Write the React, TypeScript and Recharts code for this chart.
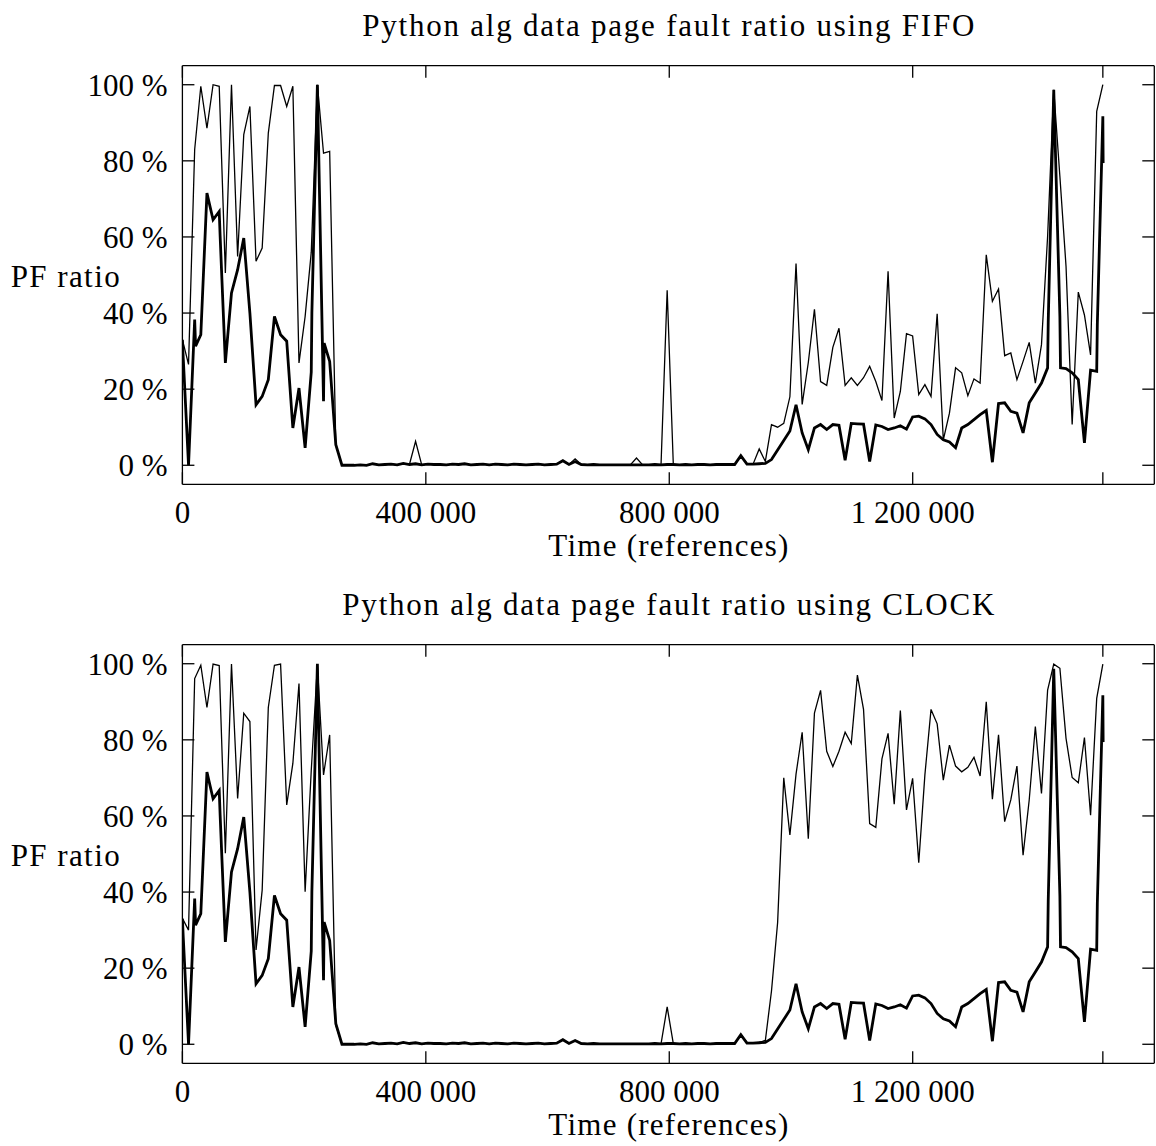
import { LineChart, Line, XAxis, YAxis } from "recharts";

const FONT = "'Liberation Serif', 'Times New Roman', serif";

// one sample every SAMPLE_STEP references
const SAMPLE_STEP = 10083;
const X_MAX = 1597000;
const xTicks = [0, 400000, 800000, 1200000, 1512450];
const yTicks = [0, 20, 40, 60, 80, 100];

// page fault ratio (%) of the FIFO run
const fifoRatio = [
  33, 26.5, 83, 99.6, 88.6, 100, 99.6, 50.5, 100, 54.9,
  86.9, 94.3, 53.6, 57.1, 87.3, 99.8, 99.8, 94.3, 99.6, 26.9,
  39.1, 56, 100, 82, 82.5, 5.4, 0, 0, 0, 0.1,
  0, 0.4, 0.1, 0.2, 0.3, 0.1, 0.5, 0.2, 6.3, 0.1,
  0.3, 0.2, 0.2, 0.1, 0.3, 0.2, 0.4, 0.1, 0.2, 0.3,
  0.1, 0.3, 0.2, 0.1, 0.3, 0.2, 0.1, 0.2, 0.3, 0.1,
  0.2, 0.3, 1.2, 0.2, 1.7, 0.2, 0.1, 0.2, 0.1, 0.1,
  0.1, 0.1, 0.1, 0.1, 1.9, 0.1, 0.1, 0.2, 0.1, 46,
  0.2, 0.1, 0.2, 0.1, 0.2, 0.2, 0.1, 0.2, 0.2, 0.2,
  0.2, 2.5, 0.5, 0.3, 4.3, 1, 10.7, 10, 11, 18,
  53, 16, 27, 41, 22, 21, 31, 36, 21, 23,
  21, 23, 26, 22, 17, 51, 12.4, 19.4, 34.6, 34,
  18.6, 21.2, 18.1, 39.8, 6.7, 13.7, 25.6, 24.3, 18.3, 22.7,
  21.6, 55.3, 43.1, 46.3, 28.8, 29.5, 22.5, 27.3, 32.3, 21.6,
  31.7, 60.2, 98.7, 75.9, 52.3, 10.7, 45.5, 39.5, 29, 93, 100,
];

// page fault ratio (%) of the CLOCK run
const clockRatio = [
  33.1, 30, 96.1, 99.6, 88.5, 99.9, 99.5, 50.2, 99.9, 64.6,
  87, 84.8, 24.8, 40.5, 88.5, 99.6, 99.9, 62.9, 73.8, 94.8,
  40.1, 72, 99.6, 70.8, 81.3, 5, 0, 0, 0, 0.1,
  0, 0.4, 0.1, 0.2, 0.3, 0.1, 0.5, 0.2, 0.4, 0.1,
  0.3, 0.2, 0.2, 0.1, 0.3, 0.2, 0.4, 0.1, 0.2, 0.3,
  0.1, 0.3, 0.2, 0.1, 0.3, 0.2, 0.1, 0.2, 0.3, 0.1,
  0.2, 0.3, 1.2, 0.2, 1.0, 0.2, 0.1, 0.2, 0.1, 0.1,
  0.1, 0.1, 0.1, 0.1, 0.1, 0.1, 0.1, 0.2, 0.1, 9.8,
  0.2, 0.1, 0.2, 0.1, 0.2, 0.2, 0.1, 0.2, 0.2, 0.2,
  0.2, 2.5, 0.5, 0.3, 0.5, 1, 14, 32, 70, 55,
  71, 82, 54, 87, 93, 77, 73, 77, 82, 79,
  97, 88, 58, 57, 75, 81.7, 63.1, 87.7, 61.6, 69.9,
  47.7, 70.8, 88, 84.2, 69.4, 78.6, 73.1, 71.6, 72.8, 75.4,
  70.5, 90, 64.4, 81.3, 58.5, 64.2, 73.1, 49.7, 64.2, 83.5,
  65.9, 93.1, 99.9, 98.8, 80.4, 70.1, 68.7, 80.6, 60.2, 90.9, 99.9,
];

// baseline ratio (%) drawn thick in both plots
const baseRatio = [
  33, 0, 38.3, 34.3, 71.5, 64.5, 66.7, 26.9, 45.3, 51.4,
  59.7, 40, 15.9, 18.1, 22.5, 39.1, 34.3, 32.6, 9.8, 20.3,
  4.6, 24.5, 100, 16.8, 27.3, 5.4, 0, 0, 0, 0.1,
  0, 0.4, 0.1, 0.2, 0.3, 0.1, 0.5, 0.2, 0.4, 0.1,
  0.3, 0.2, 0.2, 0.1, 0.3, 0.2, 0.4, 0.1, 0.2, 0.3,
  0.1, 0.3, 0.2, 0.1, 0.3, 0.2, 0.1, 0.2, 0.3, 0.1,
  0.2, 0.3, 1.2, 0.2, 1.0, 0.2, 0.1, 0.2, 0.1, 0.1,
  0.1, 0.1, 0.1, 0.1, 0.1, 0.1, 0.1, 0.2, 0.1, 0.2,
  0.2, 0.1, 0.2, 0.1, 0.2, 0.2, 0.1, 0.2, 0.2, 0.2,
  0.2, 2.5, 0.3, 0.3, 0.4, 0.5, 1.5, 4, 6.5, 9,
  15.9, 8.5, 4.1, 9.8, 10.7, 9.4, 10.7, 10.5, 1.3, 11,
  10.9, 10.8, 1.0, 10.6, 10.2, 9.4, 9.8, 10.4, 9.5, 12.7,
  12.9, 12.2, 10.7, 8.1, 6.7, 6.1, 4.6, 9.8, 10.7, 12,
  13.3, 14.4, 0.8, 16.2, 16.4, 14.2, 13.7, 8.5, 16.4, 19,
  21.6, 25.6, 98.7, 39.1, 25.4, 24.3, 22.5, 5.9, 25, 24.7, 91.7,
];

// extra baseline samples that sit between the regular ones (sample position, %)
const baseExtraPos = [0.15, 2.15, 6.15, 21.1, 23.1, 141.1, 143.1, 149.1, 150.05];
const baseExtraRatio = [27.8, 31.3, 60.2, 40, 32.1, 37.8, 25.6, 37, 79.4];

const toRows = (ratio: number[]) =>
  ratio.map((v, i) => ({ x: i * SAMPLE_STEP, v }));

const baseRows = [
  ...toRows(baseRatio),
  ...baseExtraPos.map((p, i) => ({ x: p * SAMPLE_STEP, v: baseExtraRatio[i] })),
].sort((a, b) => a.x - b.x);

const formatRefs = (v: number) =>
  v === xTicks[xTicks.length - 1]
    ? ""
    : String(v).replace(/\B(?=(\d{3})+(?!\d))/g, " ");

const noLabel = () => "";

const textStyle = { fill: "#000", fontSize: 31, fontFamily: FONT };

const ChartTitle = ({ viewBox, text, length }: any) => (
  <text
    x={viewBox.x + viewBox.width / 2}
    y={viewBox.y + viewBox.height - 30}
    textAnchor="middle"
    textLength={length}
    {...textStyle}
  >
    {text}
  </text>
);

const YTitle = ({ viewBox }: any) => (
  <text
    x={10.7}
    y={viewBox.y + viewBox.height / 2 + 11.5}
    textLength={109}
    {...textStyle}
  >
    PF ratio
  </text>
);

const XTitle = ({ viewBox }: any) => (
  <text
    x={viewBox.x + viewBox.width / 2}
    y={viewBox.y + 72}
    textAnchor="middle"
    textLength={240}
    {...textStyle}
  >
    Time (references)
  </text>
);

function FaultChart({
  title,
  titleLength,
  ratio,
}: {
  title: string;
  titleLength: number;
  ratio: number[];
}) {
  const rows = toRows(ratio);
  const frame = { stroke: "#000", strokeWidth: 1.3 };

  // the top and right axes only close the frame and repeat the inward ticks
  return (
    <LineChart
      width={1156}
      height={580}
      margin={{ top: 64.7, right: 0.7, bottom: 0, left: 0 }}
    >
      <XAxis
        xAxisId="bottom"
        dataKey="x"
        type="number"
        domain={[0, X_MAX]}
        allowDataOverflow
        ticks={xTicks}
        interval={0}
        tickFormatter={formatRefs}
        height={95.7}
        tickSize={-12}
        tickMargin={28.5}
        axisLine={frame}
        tickLine={frame}
        tick={textStyle}
        label={<XTitle />}
      />
      <XAxis
        xAxisId="top"
        orientation="top"
        dataKey="x"
        type="number"
        domain={[0, X_MAX]}
        allowDataOverflow
        ticks={xTicks}
        interval={0}
        height={1}
        tickSize={-12}
        axisLine={frame}
        tickLine={frame}
        tick={textStyle}
        tickFormatter={noLabel}
        label={<ChartTitle text={title} length={titleLength} />}
      />
      <YAxis
        yAxisId="left"
        type="number"
        domain={[-5, 105]}
        ticks={yTicks}
        interval={0}
        tickFormatter={(v: number) => `${v} %`}
        width={182.4}
        tickSize={-12}
        tickMargin={26.7}
        axisLine={frame}
        tickLine={frame}
        tick={textStyle}
        label={<YTitle />}
      />
      <YAxis
        yAxisId="right"
        orientation="right"
        type="number"
        domain={[-5, 105]}
        ticks={yTicks}
        interval={0}
        width={1}
        tickSize={-12}
        axisLine={frame}
        tickLine={frame}
        tick={textStyle}
        tickFormatter={noLabel}
      />
      <Line
        xAxisId="bottom"
        yAxisId="left"
        data={rows}
        dataKey="v"
        type="linear"
        stroke="#000"
        strokeWidth={1.3}
        dot={false}
        activeDot={false}
        isAnimationActive={false}
      />
      <Line
        xAxisId="top"
        yAxisId="right"
        data={baseRows}
        dataKey="v"
        type="linear"
        stroke="#000"
        strokeWidth={2.8}
        dot={false}
        activeDot={false}
        isAnimationActive={false}
      />
    </LineChart>
  );
}

export default function App() {
  return (
    <div
      style={{
        position: "absolute",
        left: 0,
        top: 0,
        width: 1156,
        height: 1146,
        overflow: "hidden",
        background: "#fff",
      }}
    >
      <div style={{ position: "absolute", left: 0, top: 0 }}>
        <FaultChart
          title="Python alg data page fault ratio using FIFO"
          titleLength={612}
          ratio={fifoRatio}
        />
      </div>
      <div style={{ position: "absolute", left: 0, top: 579.3 }}>
        <FaultChart
          title="Python alg data page fault ratio using CLOCK"
          titleLength={652}
          ratio={clockRatio}
        />
      </div>
    </div>
  );
}
